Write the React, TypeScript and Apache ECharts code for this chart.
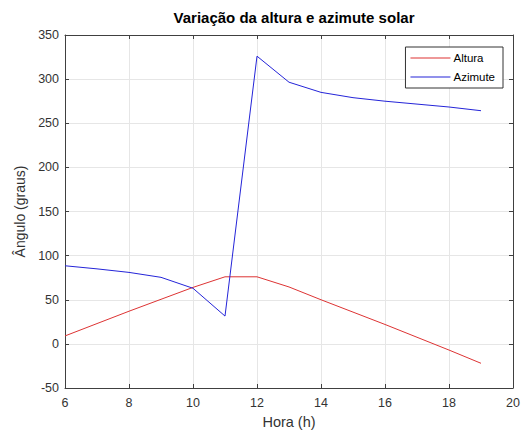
import React, { useEffect, useRef } from "react";
import * as echarts from "echarts";

const hours = [6, 7, 8, 9, 10, 11, 12, 13, 14, 15, 16, 17, 18, 19];
const altura = [9, 23, 37, 50.5, 64, 76, 76, 64.5, 50, 36, 22, 7.5, -7, -22];
const azimute = [88.5, 85, 81, 75.4, 63, 31.5, 326, 296.5, 285, 279, 275, 271.7, 268.4, 264.2];
const seriesNames = ["Altura", "Azimute"];
const titleText = "Variação da altura e azimute solar";
const xLabel = "Hora (h)";
const yLabel = "Ângulo (graus)";

export default function App() {
  const ref = useRef<HTMLDivElement>(null);
  useEffect(() => {
    if (!ref.current) return;
    const chart = echarts.init(ref.current, undefined, { renderer: "svg" });
    const font = "Liberation Sans, Arial, sans-serif";
    const axisColor = "#404040";
    const tickLabel = { color: "#333333", fontSize: 12.5, fontFamily: font };
    chart.setOption({
      animation: false,
      backgroundColor: "#ffffff",
      title: {
        text: titleText,
        left: 289,
        textAlign: "center",
        top: 5,
        textStyle: { fontSize: 15, fontWeight: "bold", color: "#000", fontFamily: font },
      },
      legend: {
        orient: "vertical",
        right: 20,
        top: 47,
        data: seriesNames.map((n) => ({ name: n, icon: "rect" })),
        backgroundColor: "#fff",
        borderColor: "#333333",
        borderWidth: 1,
        borderRadius: 0,
        padding: [5, 8, 5, 5],
        itemGap: 7,
        itemWidth: 40,
        itemHeight: 1,
        textStyle: { fontSize: 11.5, color: "#000", fontFamily: font, padding: [0, 0, 0, -2] },
      },
      grid: { left: 65, right: 10, top: 35, bottom: 45, containLabel: false },
      xAxis: [
        {
          type: "value",
          min: 6,
          max: 20,
          interval: 2,
          name: xLabel,
          nameLocation: "middle",
          nameGap: 26,
          nameTextStyle: { fontSize: 14.5, color: "#333333", fontFamily: font },
          axisLine: { show: true, onZero: false, lineStyle: { color: axisColor, width: 1 } },
          axisTick: { show: true, inside: true, length: 4, lineStyle: { color: axisColor } },
          axisLabel: { ...tickLabel, margin: 8 },
          splitLine: { show: true, lineStyle: { color: "#e6e6e6", width: 1 } },
        },
        {
          type: "value",
          min: 6,
          max: 20,
          interval: 2,
          position: "top",
          axisLine: { show: true, onZero: false, lineStyle: { color: axisColor, width: 1 } },
          axisTick: { show: true, inside: true, length: 4, lineStyle: { color: axisColor } },
          axisLabel: { show: false },
          splitLine: { show: false },
        },
      ],
      yAxis: [
        {
          type: "value",
          min: -50,
          max: 350,
          interval: 50,
          name: yLabel,
          nameLocation: "middle",
          nameGap: 35,
          nameTextStyle: { fontSize: 14, color: "#333333", fontFamily: font },
          axisLine: { show: true, onZero: false, lineStyle: { color: axisColor, width: 1 } },
          axisTick: { show: true, inside: true, length: 4, lineStyle: { color: axisColor } },
          axisLabel: { ...tickLabel, margin: 6 },
          splitLine: { show: true, lineStyle: { color: "#e6e6e6", width: 1 } },
        },
        {
          type: "value",
          min: -50,
          max: 350,
          interval: 50,
          position: "right",
          axisLine: { show: true, onZero: false, lineStyle: { color: axisColor, width: 1 } },
          axisTick: { show: true, inside: true, length: 4, lineStyle: { color: axisColor } },
          axisLabel: { show: false },
          splitLine: { show: false },
        },
      ],
      series: [
        {
          name: seriesNames[0],
          type: "line",
          data: hours.map((h, i) => [h, altura[i]]),
          symbol: "none",
          lineStyle: { color: "#dd3333", width: 1 },
          itemStyle: { color: "#dd3333" },
        },
        {
          name: seriesNames[1],
          type: "line",
          data: hours.map((h, i) => [h, azimute[i]]),
          symbol: "none",
          lineStyle: { color: "#2424d8", width: 1 },
          itemStyle: { color: "#2424d8" },
        },
      ],
    });
    return () => chart.dispose();
  }, []);
  return <div ref={ref} style={{ width: 523, height: 434, position: "absolute", left: 0, top: 0 }} />;
}
